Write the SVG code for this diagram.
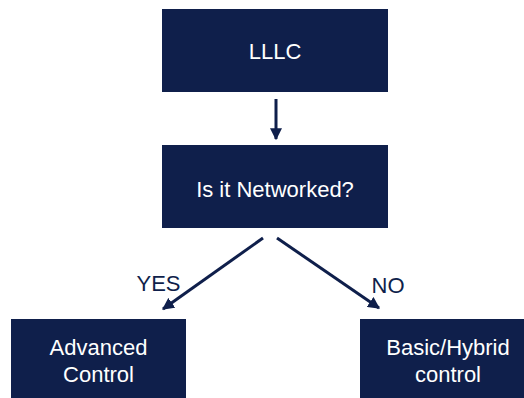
<svg xmlns="http://www.w3.org/2000/svg" width="524" height="398" viewBox="0 0 524 398">
<style>
.box{fill:#0f1f4b;}
.t{font-family:"Liberation Sans",Arial,sans-serif;font-size:22px;fill:#ffffff;text-anchor:middle;}
.l{font-family:"Liberation Sans",Arial,sans-serif;font-size:22px;fill:#0f1f4b;text-anchor:middle;}
.c{stroke:#0f1f4b;stroke-width:3;fill:none;}
</style>
<defs>
<marker id="ah" viewBox="0 0 10 10" refX="9" refY="5" markerWidth="4" markerHeight="4" orient="auto" markerUnits="strokeWidth">
<path d="M0,0 L10,5 L0,10 z" fill="#0f1f4b"/>
</marker>
</defs>
<rect width="524" height="398" fill="#ffffff"/>
<g id="n-lllc"><rect class="box" x="162" y="9" width="226" height="83"/><text class="t" x="275" y="59">LLLC</text></g>
<g id="n-net"><rect class="box" x="162" y="145" width="226" height="83"/><text class="t" x="275" y="197">Is it Networked?</text></g>
<g id="n-adv"><rect class="box" x="11" y="319" width="175" height="90"/><text class="t" x="98.5" y="355">Advanced</text><text class="t" x="98.5" y="382">Control</text></g>
<g id="n-basic"><rect class="box" x="360" y="319" width="176" height="90"/><text class="t" x="448" y="355">Basic/Hybrid</text><text class="t" x="448" y="382">control</text></g>
<g id="connectors">
<line class="c" x1="276" y1="99" x2="276" y2="139" marker-end="url(#ah)"/>
<line class="c" x1="263" y1="238" x2="163" y2="309" marker-end="url(#ah)"/>
<line class="c" x1="277" y1="238" x2="379" y2="308" marker-end="url(#ah)"/>
<text class="l" x="158.5" y="291">YES</text>
<text class="l" x="388" y="293">NO</text>
</g>
</svg>
